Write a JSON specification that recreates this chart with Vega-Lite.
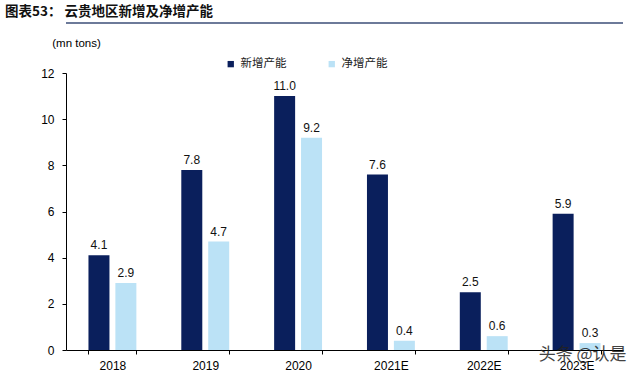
{
  "$schema": "https://vega.github.io/schema/vega-lite/v6.json",
  "width": 557,
  "height": 277,
  "autosize": {"type": "none"},
  "padding": {"left": 66, "top": 73, "right": 17, "bottom": 25},
  "background": "white",
  "title": {
    "text": "图表53：    云贵地区新增及净增产能",
    "anchor": "start",
    "frame": "group",
    "dx": -61,
    "offset": 4,
    "font": "Noto Sans CJK SC",
    "fontSize": 13.5,
    "fontWeight": "bold",
    "color": "#111111"
  },
  "config": {
    "view": {"stroke": null},
    "font": "Liberation Sans"
  },
  "data": {
    "values": [
      {"year": "2018", "series": "新增产能", "value": 4.1},
      {"year": "2018", "series": "净增产能", "value": 2.9},
      {"year": "2019", "series": "新增产能", "value": 7.8},
      {"year": "2019", "series": "净增产能", "value": 4.7},
      {"year": "2020", "series": "新增产能", "value": 11.0},
      {"year": "2020", "series": "净增产能", "value": 9.2},
      {"year": "2021E", "series": "新增产能", "value": 7.6},
      {"year": "2021E", "series": "净增产能", "value": 0.4},
      {"year": "2022E", "series": "新增产能", "value": 2.5},
      {"year": "2022E", "series": "净增产能", "value": 0.6},
      {"year": "2023E", "series": "新增产能", "value": 5.9},
      {"year": "2023E", "series": "净增产能", "value": 0.3}
    ]
  },
  "layer": [
    {
      "mark": {"type": "rule", "color": "#6d7a99", "strokeWidth": 1.5},
      "encoding": {"y": {"datum": 14.15, "type": "quantitative"}}
    },
    {
      "mark": {"type": "bar"},
      "encoding": {
        "x": {
          "field": "year", "type": "nominal", "sort": null,
          "scale": {"paddingInner": 0.484, "paddingOuter": 0.242},
          "axis": {
            "title": null, "labelAngle": 0, "labelFontSize": 12, "labelColor": "#000000",
            "labelFont": "Liberation Sans", "domainColor": "#000000", "tickColor": "#000000",
            "tickBand": "extent", "tickSize": 4, "labelPadding": 6
          }
        },
        "xOffset": {
          "field": "series", "type": "nominal", "sort": ["新增产能", "净增产能"],
          "scale": {"paddingInner": 0.22, "paddingOuter": 0}
        },
        "y": {
          "field": "value", "type": "quantitative",
          "scale": {"domain": [0, 12], "nice": false},
          "axis": {
            "values": [0, 2, 4, 6, 8, 10, 12], "grid": false,
            "title": "(mn tons)", "titleAngle": 0, "titleX": 10, "titleY": -30,
            "titleAlign": "center", "titleBaseline": "middle", "titleFontWeight": "normal",
            "titleFontSize": 11.5, "titleFont": "Liberation Sans", "titleColor": "#000000",
            "labelFontSize": 12, "labelColor": "#000000", "labelFont": "Liberation Sans",
            "domainColor": "#000000", "tickColor": "#000000", "tickSize": 4, "labelPadding": 8
          }
        },
        "color": {
          "field": "series", "type": "nominal",
          "scale": {"domain": ["新增产能", "净增产能"], "range": ["#0a1f5c", "#bbe2f6"]},
          "legend": {
            "title": null, "orient": "none", "direction": "horizontal",
            "legendX": 159, "legendY": -15, "symbolType": "square", "symbolSize": 40,
            "columnPadding": 39, "labelFont": "Noto Sans CJK SC", "labelFontSize": 11.5,
            "labelColor": "#222222", "symbolStrokeWidth": 0
          }
        }
      }
    },
    {
      "mark": {"type": "text", "dy": -10, "fontSize": 12, "color": "#111111", "font": "Liberation Sans"},
      "encoding": {
        "x": {"field": "year", "type": "nominal", "sort": null},
        "xOffset": {"field": "series", "type": "nominal", "sort": ["新增产能", "净增产能"]},
        "y": {"field": "value", "type": "quantitative"},
        "text": {"field": "value", "type": "quantitative", "format": ".1f"}
      }
    },
    {
      "data": {"values": [{"year": "2023E", "label": "头条 @认是"}]},
      "mark": {"type": "text", "dy": 5, "dx": 6, "fontSize": 17, "color": "#222222", "opacity": 0.85, "font": "Noto Sans CJK SC"},
      "encoding": {
        "x": {"field": "year", "type": "nominal"},
        "y": {"datum": 0, "type": "quantitative"},
        "text": {"field": "label"}
      }
    }
  ]
}
